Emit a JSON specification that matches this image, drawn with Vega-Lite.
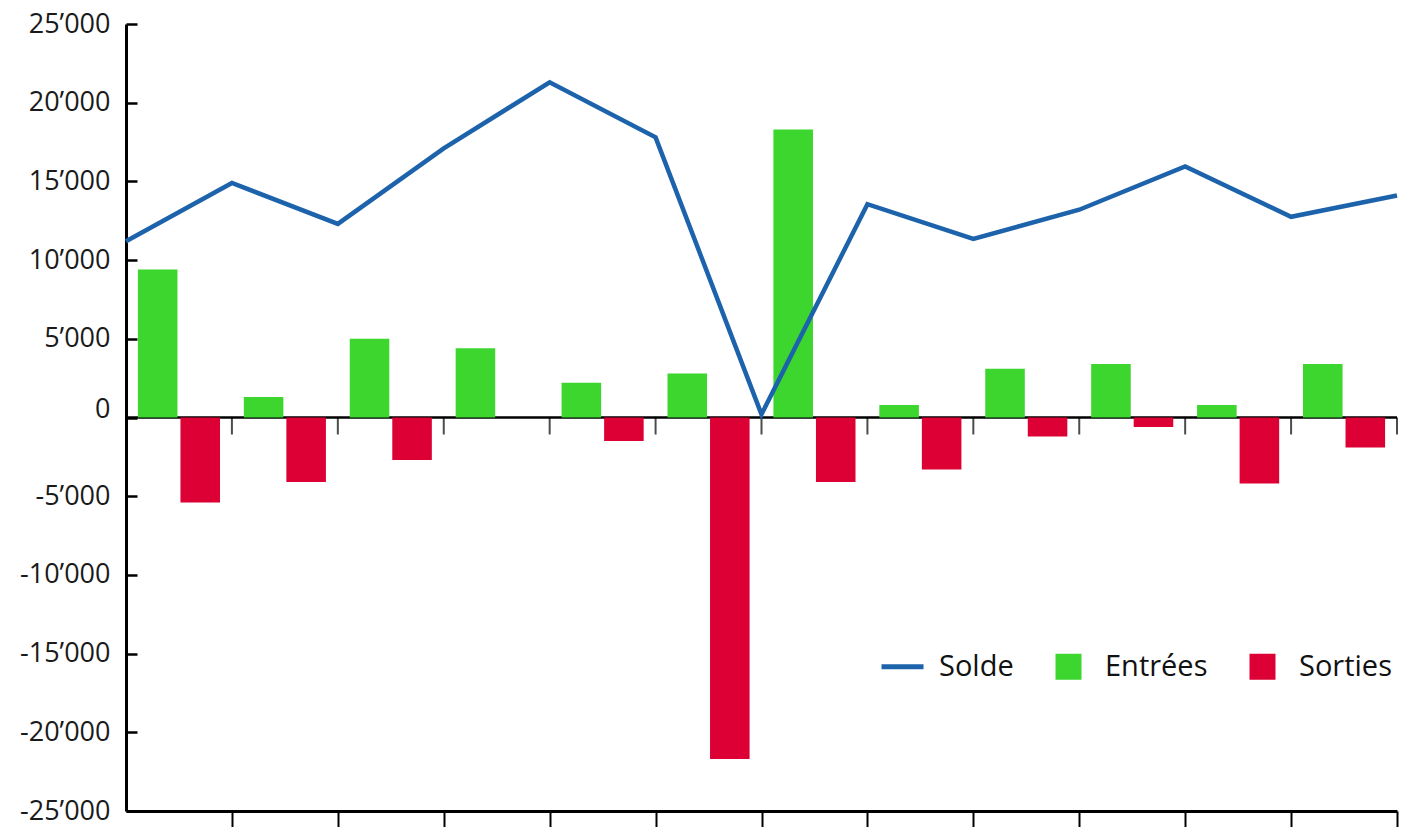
{
  "$schema": "https://vega.github.io/schema/vega-lite/v6.json",
  "width": 1271,
  "height": 787,
  "autosize": {"type": "none"},
  "padding": {"left": 126, "top": 24, "right": 5, "bottom": 16},
  "background": "white",
  "config": {
    "view": {"stroke": null},
    "font": "Open Sans",
    "axis": {"grid": false, "domainColor": "black", "tickColor": "black", "labelColor": "#1a1a1a", "labelFont": "Open Sans"}
  },
  "datasets": {
    "flux": [
      {"m": "1", "serie": "Entrées", "value": 9400},
      {"m": "1", "serie": "Sorties", "value": -5400},
      {"m": "2", "serie": "Entrées", "value": 1300},
      {"m": "2", "serie": "Sorties", "value": -4100},
      {"m": "3", "serie": "Entrées", "value": 5000},
      {"m": "3", "serie": "Sorties", "value": -2700},
      {"m": "4", "serie": "Entrées", "value": 4400},
      {"m": "4", "serie": "Sorties", "value": 0},
      {"m": "5", "serie": "Entrées", "value": 2200},
      {"m": "5", "serie": "Sorties", "value": -1500},
      {"m": "6", "serie": "Entrées", "value": 2800},
      {"m": "6", "serie": "Sorties", "value": -21700},
      {"m": "7", "serie": "Entrées", "value": 18300},
      {"m": "7", "serie": "Sorties", "value": -4100},
      {"m": "8", "serie": "Entrées", "value": 800},
      {"m": "8", "serie": "Sorties", "value": -3300},
      {"m": "9", "serie": "Entrées", "value": 3100},
      {"m": "9", "serie": "Sorties", "value": -1200},
      {"m": "10", "serie": "Entrées", "value": 3400},
      {"m": "10", "serie": "Sorties", "value": -600},
      {"m": "11", "serie": "Entrées", "value": 800},
      {"m": "11", "serie": "Sorties", "value": -4200},
      {"m": "12", "serie": "Entrées", "value": 3400},
      {"m": "12", "serie": "Sorties", "value": -1900}
    ],
    "solde": [
      {"idx": 0, "solde": 11200},
      {"idx": 1, "solde": 14900},
      {"idx": 2, "solde": 12300},
      {"idx": 3, "solde": 17100},
      {"idx": 4, "solde": 21300},
      {"idx": 5, "solde": 17800},
      {"idx": 6, "solde": 200},
      {"idx": 7, "solde": 13550},
      {"idx": 8, "solde": 11350},
      {"idx": 9, "solde": 13200},
      {"idx": 10, "solde": 15950},
      {"idx": 11, "solde": 12750},
      {"idx": 12, "solde": 14100}
    ]
  },
  "layer": [
    {
      "data": {"values": [{}]},
      "mark": {"type": "rule", "color": "black", "strokeWidth": 2.5},
      "encoding": {"y": {"datum": 0, "type": "quantitative"}}
    },
    {
      "data": {"name": "flux"},
      "mark": {"type": "bar"},
      "encoding": {
        "x": {"field": "m", "type": "nominal", "sort": null, "axis": null,
              "scale": {"paddingInner": 0, "paddingOuter": 0}},
        "xOffset": {"field": "serie", "type": "nominal", "sort": ["Entrées", "Sorties"],
                    "scale": {"domain": ["Entrées", "Sorties"], "paddingInner": 0.07, "paddingOuter": 0.28}},
        "y": {
          "field": "value", "type": "quantitative",
          "scale": {"domain": [-25000, 25000], "nice": false, "zero": false},
          "axis": {
            "title": null,
            "values": [-25000, -20000, -15000, -10000, -5000, 0, 5000, 10000, 15000, 20000, 25000],
            "labelExpr": "replace(replace(format(datum.value, ','), ',', '’'), '−', '-')",
            "labelFontSize": 27,
            "labelPadding": 27,
            "tickSize": -11,
            "tickWidth": 2.5,
            "domainWidth": 3,
            "labelBaseline": {"condition": {"test": "datum.value === 0", "value": "alphabetic"}, "value": "middle"}
          }
        },
        "color": {
          "field": "serie", "type": "nominal",
          "scale": {"domain": ["Solde", "Entrées", "Sorties"], "range": ["#1c63ab", "#3dd62f", "#dc0035"]},
          "legend": {
            "title": null,
            "orient": "none",
            "legendX": 762,
            "legendY": 628,
            "direction": "horizontal",
            "labelFontSize": 29,
            "labelFont": "Open Sans",
            "labelColor": "#111111",
            "symbolSize": 676,
            "labelOffset": 22,
            "columnPadding": 40,
            "encode": {
              "symbols": {
                "update": {
                  "shape": {"signal": "datum.value === 'Solde' ? 'stroke' : 'square'"},
                  "size": {"signal": "datum.value === 'Solde' ? 1764 : 676"},
                  "strokeWidth": {"signal": "datum.value === 'Solde' ? 5 : 0"},
                  "stroke": {"scale": "color", "field": "value"},
                  "fill": {"scale": "color", "field": "value"},
                  "opacity": {"value": 1},
                  "fillOpacity": {"value": 1},
                  "strokeOpacity": {"value": 1}
                }
              }
            }
          }
        }
      }
    },
    {
      "data": {"name": "solde"},
      "layer": [
        {
          "mark": {"type": "tick", "orient": "vertical", "color": "black", "size": 17, "thickness": 2, "yOffset": 8.5},
          "encoding": {
            "x": {"field": "idx", "type": "quantitative"},
            "y": {"datum": 0, "type": "quantitative"}
          }
        },
        {
          "mark": {"type": "line", "strokeWidth": 4.5, "strokeJoin": "miter"},
          "encoding": {
            "x": {
              "field": "idx", "type": "quantitative",
              "scale": {"domain": [0, 12], "nice": false, "zero": false},
              "axis": {
                "title": null,
                "labels": false,
                "values": [1, 2, 3, 4, 5, 6, 7, 8, 9, 10, 11, 12],
                "tickSize": 17,
                "tickWidth": 2,
                "domainWidth": 3
              }
            },
            "y": {"field": "solde", "type": "quantitative"},
            "color": {"datum": "Solde"}
          }
        }
      ]
    }
  ],
  "resolve": {"scale": {"x": "independent"}}
}
